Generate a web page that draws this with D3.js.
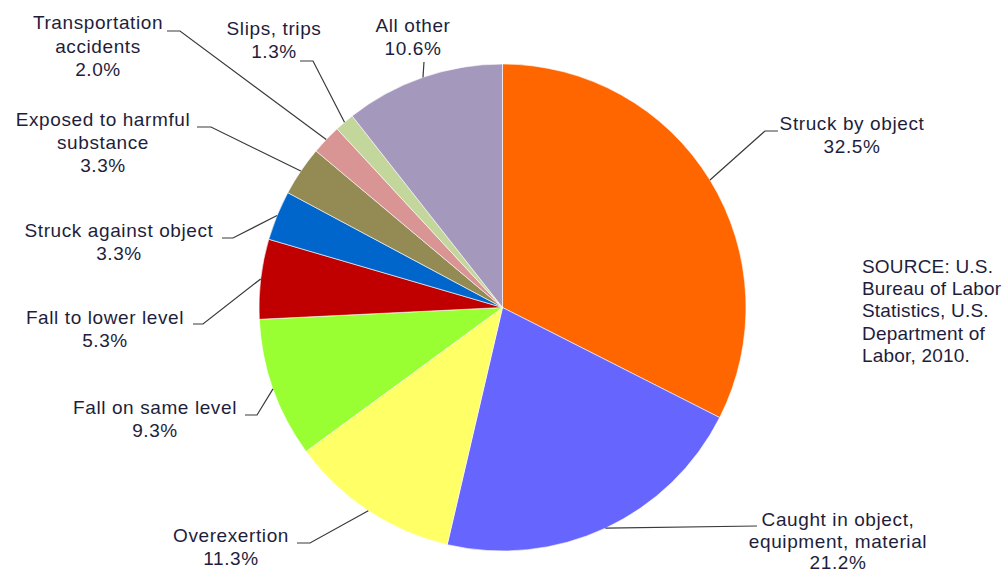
<!DOCTYPE html>
<html>
<head>
<meta charset="utf-8">
<script src="https://cdn.jsdelivr.net/npm/d3@7"></script>
<style>
  body { margin: 0; background: #fff; }
  text { font-family: "Liberation Sans", Arial, sans-serif; font-size: 19px; fill: #1e1e3c; letter-spacing: 0.6px; }
</style>
</head>
<body>
<div id="chart"></div>
<script>
(function () {
    // Data (clockwise from 12 o'clock)
    const categories = ["Struck by object", "Caught in object, equipment, material", "Overexertion",
        "Fall on same level", "Fall to lower level", "Struck against object",
        "Exposed to harmful substance", "Transportation accidents", "Slips, trips", "All other"];
    const values = [32.5, 21.2, 11.3, 9.3, 5.3, 3.3, 3.3, 2.0, 1.3, 10.6];
    const colors = ["#ff6600", "#6666ff", "#ffff66", "#99ff33", "#c00000", "#0066cc",
        "#948a54", "#d99594", "#c3d69b", "#a598bd"];
    // label lines as shown in the picture
    const labelLines = [
        ["Struck by object"], ["Caught in object,", "equipment, material"], ["Overexertion"],
        ["Fall on same level"], ["Fall to lower level"], ["Struck against object"],
        ["Exposed to harmful", "substance"], ["Transportation", "accidents"], ["Slips, trips"], ["All other"]
    ];
    const sourceLines = ["SOURCE: U.S.", "Bureau of Labor", "Statistics, U.S.", "Department of", "Labor, 2010."];

    // Layout of labels: text centre, first baseline, line step, elbow and end of the leader line
    const layout = [
        { x: 852, y: 130, dy: 23, elbow: [765, 131], end: [778, 131] },
        { x: 838, y: 526, dy: 21.5, elbow: null, end: [757, 526] },
        { x: 231, y: 542, dy: 23, elbow: [310, 543], end: [297, 543] },
        { x: 155, y: 414, dy: 23, elbow: [257, 415], end: [245, 415] },
        { x: 105, y: 324, dy: 23, elbow: [203, 324], end: [193, 324] },
        { x: 119, y: 237, dy: 23, elbow: [233, 238], end: [222, 238] },
        { x: 103, y: 126, dy: 23, elbow: [211, 127], end: [197, 127] },
        { x: 98, y: 29, dy: 23.5, elbow: [180, 31], end: [167, 31] },
        { x: 274, y: 35, dy: 23, elbow: [313, 61], end: [300, 61] },
        { x: 413, y: 32, dy: 23, elbow: null, end: [424, 62] }
    ];

    const W = 1008, H = 574;
    const cx = 502.5, cy = 307.5, r = 243.5;

    const svg = d3.select("#chart")
      .append("svg")
        .attr("width", W)
        .attr("height", H);

    const pieData = d3.pie().sort(null).value(d => d)(values);
    const arc = d3.arc().innerRadius(0).outerRadius(r);
    const edge = d3.arc().innerRadius(r).outerRadius(r);

    const g = svg.append("g")
        .attr("transform", `translate(${cx},${cy})`);

    // Slices
    g.selectAll("path")
      .data(pieData)
      .enter()
      .append("path")
        .attr("d", arc)
        .attr("fill", (d, i) => colors[i])
        .attr("stroke", "#ffffff")
        .attr("stroke-width", 0.6);

    // Leader lines
    pieData.forEach(function (d, i) {
        const p = edge.centroid(d);
        const L = layout[i];
        const pts = [[p[0] + cx, p[1] + cy]];
        if (L.elbow) pts.push(L.elbow);
        pts.push(L.end);
        svg.append("polyline")
            .attr("points", pts.map(q => q.join(",")).join(" "))
            .attr("fill", "none")
            .attr("stroke", "#3a3a3a")
            .attr("stroke-width", 1.2);
    });

    // Labels
    pieData.forEach(function (d, i) {
        const L = layout[i];
        const lines = labelLines[i].concat([values[i].toFixed(1) + "%"]);
        const t = svg.append("text")
            .attr("text-anchor", "middle");
        lines.forEach(function (s, k) {
            t.append("tspan")
                .attr("x", L.x)
                .attr("y", L.y + k * L.dy)
                .text(s);
        });
    });

    // Source note
    const src = svg.append("text")
        .style("letter-spacing", "0.2px");
    sourceLines.forEach(function (s, k) {
        src.append("tspan")
            .attr("x", 862)
            .attr("y", 273 + k * 22.2)
            .text(s);
    });
})();
</script>
</body>
</html>
